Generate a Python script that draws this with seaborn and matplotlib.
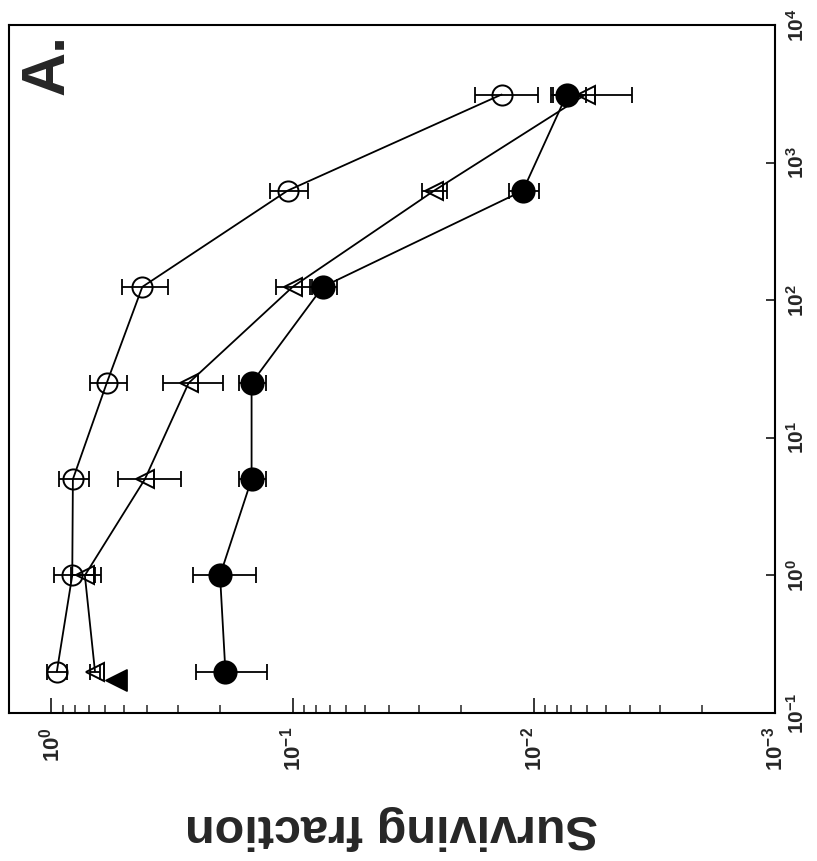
import numpy as np
import pandas as pd
import matplotlib
matplotlib.use('Agg')
import matplotlib.pyplot as plt
import seaborn as sns
from matplotlib.ticker import FixedLocator, NullFormatter, NullLocator

# dose levels (drawn on the vertical axis, the figure is turned on its side)
dose = [0.2, 1, 5, 25, 125, 625, 3125]

open_circle_frac = [0.95, 0.82, 0.815, 0.59, 0.42, 0.105, 0.0136]
open_circle_sd = [0.09, 0.16, 0.116, 0.103, 0.09, 0.019, 0.004]

open_triangle_frac = [0.66, 0.727, 0.41, 0.27, 0.10, 0.0259, 0.0061]
open_triangle_sd = [0.03, 0.105, 0.12, 0.075, 0.017, 0.0031, 0.0022]

filled_circle_frac = [0.19, 0.20, 0.148, 0.148, 0.075, 0.0111, 0.0073]
filled_circle_sd = [0.0625, 0.058, 0.019, 0.019, 0.0095, 0.0016, 0.0012]

# lone filled triangle near the lowest dose
lone_dose = [0.175]
lone_frac = [0.54]

frac_ticks = [1, 0.1, 0.01, 0.001]
frac_labels = ['$10^{0}$', '$10^{-1}$', '$10^{-2}$', '$10^{-3}$']
dose_ticks = [0.1, 1, 10, 100, 1000, 10000]
dose_labels = ['$10^{-1}$', '$10^{0}$', '$10^{1}$', '$10^{2}$', '$10^{3}$', '$10^{4}$']

sns.set_style('ticks')
plt.rcParams['font.family'] = ['Liberation Sans', 'DejaVu Sans']
plt.rcParams['font.weight'] = 'bold'
plt.rcParams['mathtext.fontset'] = 'custom'
plt.rcParams['mathtext.bf'] = 'Liberation Sans:bold'
plt.rcParams['mathtext.rm'] = 'Liberation Sans:bold'
plt.rcParams['mathtext.default'] = 'bf'

df = pd.concat([
    pd.DataFrame({'dose': dose, 'frac': open_circle_frac,
                  'sd': open_circle_sd, 'group': 'open_circle'}),
    pd.DataFrame({'dose': dose, 'frac': open_triangle_frac,
                  'sd': open_triangle_sd, 'group': 'open_triangle'}),
    pd.DataFrame({'dose': dose, 'frac': filled_circle_frac,
                  'sd': filled_circle_sd, 'group': 'filled_circle'}),
], ignore_index=True)

styles = {
    'open_circle': dict(marker='o', markersize=14.5, markerfacecolor='none'),
    'open_triangle': dict(marker='<', markersize=13.5, markerfacecolor='none'),
    'filled_circle': dict(marker='o', markersize=16, markerfacecolor='black'),
}

fig = plt.figure(figsize=(8.17, 8.61), dpi=100)
ax = fig.add_axes([9 / 817, 1 - 713 / 861, 766 / 817, 688 / 861])

for name, sub in df.groupby('group', sort=False):
    ax.errorbar(sub['frac'], sub['dose'], xerr=sub['sd'], fmt='none',
                ecolor='black', elinewidth=1.3, capsize=6, capthick=1.3,
                zorder=2)
    sns.lineplot(data=sub, x='frac', y='dose', sort=False, estimator=None,
                 color='black', linewidth=1.3, markeredgecolor='black',
                 markeredgewidth=1.4, ax=ax, zorder=3, **styles[name])

sns.scatterplot(x=lone_frac, y=lone_dose, marker='<', s=230, color='black',
                edgecolor='black', ax=ax, zorder=3)

ax.set_xscale('log')
ax.set_yscale('log')
ax.set_xlim(1.5, 0.001)
ax.set_ylim(0.1, 10000)

ax.set_xticks(frac_ticks)
ax.set_xticklabels(frac_labels)
minor = [m * 10.0 ** e for e in (-3, -2, -1) for m in range(2, 10)]
ax.xaxis.set_minor_locator(FixedLocator(minor))
ax.xaxis.set_minor_formatter(NullFormatter())

ax.yaxis.tick_right()
ax.set_yticks(dose_ticks)
ax.set_yticklabels(dose_labels)
ax.yaxis.set_minor_locator(NullLocator())

ax.tick_params(axis='x', which='major', direction='in', length=10.5,
               width=1.3, labelsize=16, labelrotation=90, pad=10)
ax.tick_params(axis='x', which='minor', direction='in', length=6, width=1.1)
ax.tick_params(axis='y', which='major', direction='in', length=6.5,
               width=1.3, labelsize=15, labelrotation=90, pad=8)
for lab in ax.get_yticklabels():
    lab.set_va('center')

for side in ['top', 'bottom', 'left', 'right']:
    ax.spines[side].set_visible(True)
    ax.spines[side].set_linewidth(1.5)
    ax.spines[side].set_color('black')

ax.set_ylabel('')
ax.set_xlabel('Surviving fraction', rotation=180, fontsize=35,
              fontweight='bold', labelpad=24)

ax.text(0.051, 0.942, 'A.', transform=ax.transAxes, rotation=90,
        fontsize=44, fontweight='bold', ha='center', va='center')

fig.savefig('out.png', dpi=100)
